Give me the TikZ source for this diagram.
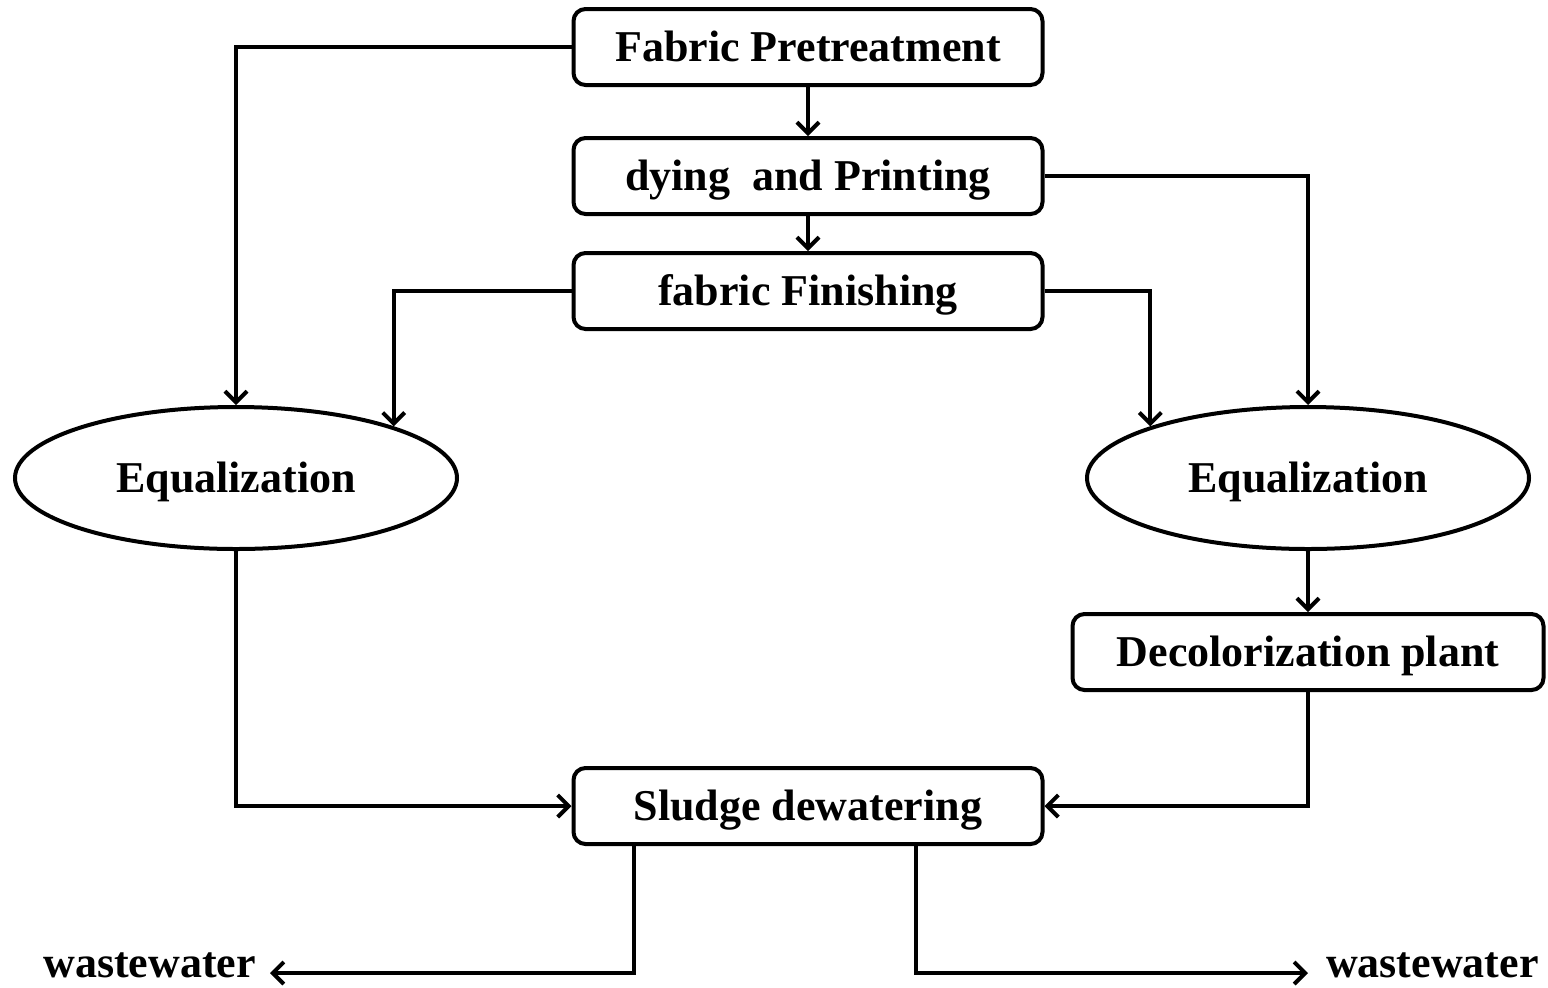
\documentclass[tikz,border=0pt]{standalone}
\usepackage{fontspec}
\setmainfont{Liberation Serif}
\usetikzlibrary{arrows.meta,shapes.geometric}
\begin{document}
\begin{tikzpicture}[x=0.5pt,y=-0.5pt,
  line width=2pt,
  font=\fontsize{22}{26}\selectfont\bfseries,
  stagebox/.style={draw,rounded corners=6pt,minimum width=234.5pt,minimum height=38pt,
    inner sep=0pt,text height=17pt,text depth=2.4pt},
  pool/.style={draw,ellipse,minimum width=221pt,minimum height=71pt,inner sep=0pt,
    text height=17pt,text depth=2.4pt},
  flow/.style={-{Straight Barb[length=5.5pt,width=11pt]}},
  outlet/.style={inner sep=0pt}]
  \useasboundingbox (0,0) rectangle (1548,987);

  % process stages
  \node[stagebox] (pre) at (808,47) {Fabric Pretreatment};
  \node[stagebox] (dye) at (808,176) {dying\ \ and Printing};
  \node[stagebox] (fin) at (808,291) {fabric Finishing};
  \node[pool] (eqL) at (236,478) {Equalization};
  \node[pool] (eqR) at (1308,478) {Equalization};
  \node[stagebox,minimum width=235.5pt] (dec) at (1308,652) {Decolorization plant};
  \node[stagebox] (sld) at (808,806) {Sludge dewatering};
  \node[outlet,anchor=base east] (wwL) at (258,977) {wastewater};
  \node[outlet,anchor=base west] (wwR) at (1324,977) {wastewater};

  % flows
  \draw[flow] (pre.south) -- (dye.north);
  \draw[flow] (dye.south) -- (fin.north);
  \draw[flow] (pre.west) -| (eqL.north);
  \draw[flow] (fin.west) -| (eqL.north east);
  \draw[flow] (dye.east) -| (eqR.north);
  \draw[flow] (fin.east) -| (eqR.north west);
  \draw[flow] (eqR.south) -- (dec.north);
  \draw[flow] (dec.south) |- (sld.east);
  \draw[flow] (eqL.south) |- (sld.west);

  % discharge
  \coordinate (outL) at ([xshift=31pt]sld.south west);
  \coordinate (outR) at ([xshift=172pt]sld.south west);
  \draw[flow] (outL) |- ([xshift=6pt,yshift=2pt]wwL.base east);
  \draw[flow] (outR) |- ([xshift=-8pt,yshift=2pt]wwR.base west);
\end{tikzpicture}
\end{document}
